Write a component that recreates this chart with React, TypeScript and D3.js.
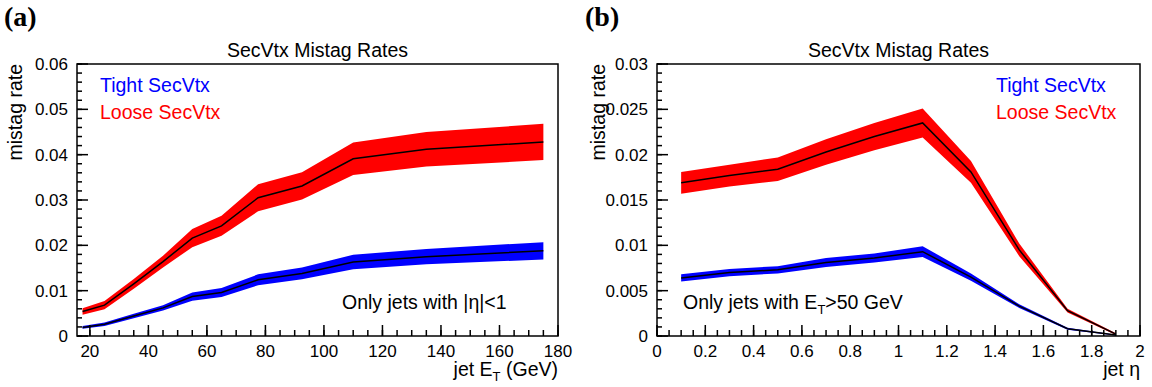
import React from "react";
import * as d3 from "d3";

// ---- Data: panel (a), mistag rate vs jet E_T ----
const etBins = [17.5, 25, 35, 45, 55, 65, 77.5, 92.5, 110, 135, 175];
const etLoose = [0.0054, 0.0068, 0.0115, 0.0164, 0.0216, 0.0243, 0.0305, 0.0331, 0.0391, 0.0412, 0.0428];
const etLooseErr = [0.0007, 0.0009, 0.0011, 0.0013, 0.002, 0.0022, 0.003, 0.003, 0.0036, 0.0038, 0.004];
const etTight = [0.0019, 0.0026, 0.0044, 0.0062, 0.0087, 0.0096, 0.0124, 0.0138, 0.0163, 0.0175, 0.0188];
const etTightErr = [0.0003, 0.0004, 0.0005, 0.0006, 0.0009, 0.001, 0.0012, 0.0013, 0.0016, 0.0017, 0.0019];

// ---- Data: panel (b), mistag rate vs jet eta ----
const etaBins = [0.1, 0.3, 0.5, 0.7, 0.9, 1.1, 1.3, 1.5, 1.7, 1.9];
const etaLoose = [0.0169, 0.0177, 0.0184, 0.0203, 0.022, 0.0235, 0.0181, 0.0095, 0.0028, 0.0002];
const etaLooseErr = [0.0012, 0.0012, 0.0013, 0.0014, 0.0015, 0.0016, 0.0012, 0.0007, 0.0002, 0.0001];
const etaTight = [0.0064, 0.007, 0.0073, 0.0081, 0.0086, 0.0093, 0.0065, 0.0033, 0.0008, 0.0001];
const etaTightErr = [0.0004, 0.0004, 0.0004, 0.0005, 0.0005, 0.0006, 0.0004, 0.0002, 0.0001, 0.00005];

// tick labels
const etXTicks = [20, 40, 60, 80, 100, 120, 140, 160, 180];
const etYTicks = [0, 0.01, 0.02, 0.03, 0.04, 0.05, 0.06];
const etaXTicks = [0, 0.2, 0.4, 0.6, 0.8, 1, 1.2, 1.4, 1.6, 1.8, 2];
const etaYTicks = [0, 0.005, 0.01, 0.015, 0.02, 0.025, 0.03];

const seriesNames = ["Tight SecVtx", "Loose SecVtx"];
const FONT = "'Liberation Sans', Arial, Helvetica, sans-serif";

type PanelProps = {
  left: number;
  right: number;
  top: number;
  bottom: number;
  xDomain: [number, number];
  yDomain: [number, number];
  xTicks: number[];
  yTicks: number[];
  xMinorStep: number;
  yMinorStep: number;
  xs: number[];
  loose: number[];
  looseErr: number[];
  tight: number[];
  tightErr: number[];
  letter: string;
  letterX: number;
  yLabelX: number;
  legendX: number;
  xLabel: React.ReactNode;
  note: React.ReactNode;
  noteX: number;
};

function Panel(p: PanelProps) {
  const x = d3.scaleLinear().domain(p.xDomain).range([p.left, p.right]);
  const y = d3.scaleLinear().domain(p.yDomain).range([p.bottom, p.top]);
  const idx = d3.range(p.xs.length);
  const band = (v: number[], e: number[]) =>
    d3
      .area<number>()
      .x((i) => x(p.xs[i]))
      .y0((i) => y(v[i] - e[i]))
      .y1((i) => y(v[i] + e[i]))(idx) || "";
  const line = (v: number[]) =>
    d3
      .line<number>()
      .x((i) => x(p.xs[i]))
      .y((i) => y(v[i]))(idx) || "";

  const xMinor: number[] = [];
  for (let v = Math.ceil(p.xDomain[0] / p.xMinorStep) * p.xMinorStep; v <= p.xDomain[1] + 1e-9; v += p.xMinorStep) xMinor.push(v);
  const yMinor: number[] = [];
  for (let v = p.yDomain[0]; v <= p.yDomain[1] + 1e-9; v += p.yMinorStep) yMinor.push(v);

  const fmt = (v: number) => (v === 0 ? "0" : String(+v.toFixed(4)));

  return (
    <g fontFamily={FONT}>
      <text x={p.letterX} y={26} fontFamily="'Liberation Serif', 'Times New Roman', serif" fontWeight="bold" fontSize={28}>
        {p.letter}
      </text>
      <text x={(p.left + p.right) / 2} y={57} textAnchor="middle" fontSize={19.5}>
        SecVtx Mistag Rates
      </text>
      {/* bands */}
      <path d={band(p.loose, p.looseErr)} fill="#ff0000" />
      <path d={band(p.tight, p.tightErr)} fill="#0000ff" />
      <path d={line(p.loose)} fill="none" stroke="#000" strokeWidth={1.5} />
      <path d={line(p.tight)} fill="none" stroke="#000" strokeWidth={1.5} />
      {/* frame */}
      <rect x={p.left} y={p.top} width={p.right - p.left} height={p.bottom - p.top} fill="none" stroke="#000" strokeWidth={1.5} />
      {/* x ticks */}
      {xMinor.map((v, i) => (
        <line key={"xm" + i} x1={x(v)} x2={x(v)} y1={p.bottom} y2={p.bottom - 6} stroke="#000" strokeWidth={1.5} />
      ))}
      {p.xTicks.map((v, i) => (
        <g key={"xt" + i}>
          <line x1={x(v)} x2={x(v)} y1={p.bottom} y2={p.bottom - 11} stroke="#000" strokeWidth={1.5} />
          <text x={x(v)} y={357} textAnchor="middle" fontSize={17}>
            {fmt(v)}
          </text>
        </g>
      ))}
      {/* y ticks */}
      {yMinor.map((v, i) => (
        <line key={"ym" + i} x1={p.left} x2={p.left + 5} y1={y(v)} y2={y(v)} stroke="#000" strokeWidth={1.5} />
      ))}
      {p.yTicks.map((v, i) => (
        <g key={"yt" + i}>
          <line x1={p.left} x2={p.left + 11} y1={y(v)} y2={y(v)} stroke="#000" strokeWidth={1.5} />
          <text x={p.left - 9} y={y(v) + 6} textAnchor="end" fontSize={17}>
            {fmt(v)}
          </text>
        </g>
      ))}
      <text transform={`translate(${p.yLabelX},${p.top}) rotate(-90)`} textAnchor="end" fontSize={19.5}>
        mistag rate
      </text>
      <text x={p.right} y={376} textAnchor="end" fontSize={19.5}>
        {p.xLabel}
      </text>
      <text x={p.legendX} y={92} fontSize={19.5} fill="#0000ff">
        {seriesNames[0]}
      </text>
      <text x={p.legendX} y={119} fontSize={19.5} fill="#ff0000">
        {seriesNames[1]}
      </text>
      <text x={p.noteX} y={309} fontSize={19.5}>
        {p.note}
      </text>
    </g>
  );
}

export default function App() {
  return (
    <svg width={1152} height={387} style={{ position: "absolute", left: 0, top: 0, background: "#fff" }}>
      <rect width={1152} height={387} fill="#fff" />
      <Panel
        left={77}
        right={558}
        top={64}
        bottom={336}
        xDomain={[15.6, 180]}
        yDomain={[0, 0.06]}
        xTicks={etXTicks}
        yTicks={etYTicks}
        xMinorStep={5}
        yMinorStep={0.002}
        xs={etBins}
        loose={etLoose}
        looseErr={etLooseErr}
        tight={etTight}
        tightErr={etTightErr}
        letter="(a)"
        letterX={4}
        yLabelX={22}
        legendX={100}
        xLabel={
          <>
            jet E<tspan fontSize={13} dy={5}>T</tspan>
            <tspan dy={-5}> (GeV)</tspan>
          </>
        }
        note="Only jets with |η|<1"
        noteX={342}
      />
      <Panel
        left={657}
        right={1140}
        top={64}
        bottom={336}
        xDomain={[0, 2]}
        yDomain={[0, 0.03]}
        xTicks={etaXTicks}
        yTicks={etaYTicks}
        xMinorStep={0.05}
        yMinorStep={0.001}
        xs={etaBins}
        loose={etaLoose}
        looseErr={etaLooseErr}
        tight={etaTight}
        tightErr={etaTightErr}
        letter="(b)"
        letterX={585}
        yLabelX={605}
        legendX={996}
        xLabel="jet η"
        note={
          <>
            Only jets with E<tspan fontSize={13} dy={5}>T</tspan>
            <tspan dy={-5}>&gt;50 GeV</tspan>
          </>
        }
        noteX={683}
      />
    </svg>
  );
}
